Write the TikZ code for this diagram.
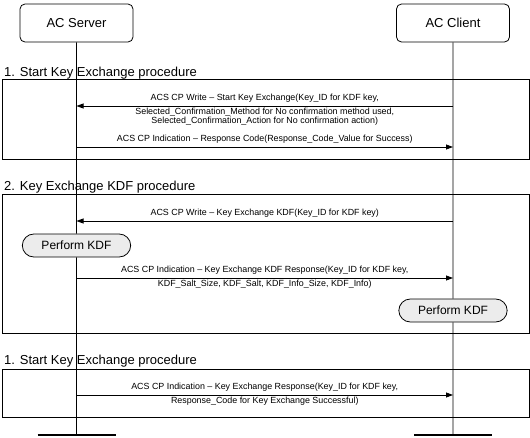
\documentclass[tikz,border=0pt]{standalone}
\usepackage{fontspec}
\setmainfont{Liberation Sans}
\usetikzlibrary{arrows.meta,positioning,shapes.misc}

\begin{document}
\begin{tikzpicture}[
    x=1pt, y=-1pt,
    actor/.style={draw, rounded corners=5pt, minimum width=113pt, minimum height=38pt,
        font=\fontsize{13}{15}\selectfont, line width=0.8pt},
    frame/.style={draw, line width=0.8pt},
    phase/.style={anchor=base west, inner sep=0pt, font=\fontsize{13}{15}\selectfont},
    msg/.style={-{Triangle[length=7pt,width=5pt]}, line width=0.8pt},
    lbl/.style={font=\fontsize{8.9}{9}\selectfont, inner sep=0pt, align=center},
    work/.style={draw, rounded rectangle, fill=gray!15, minimum width=115pt, minimum height=23pt,
        font=\fontsize{12}{14}\selectfont, line width=0.8pt}
]
\useasboundingbox (0,0) rectangle (530,437);

\draw[frame] (2,79) rectangle (529,159);
\draw[frame] (2,194) rectangle (529,333);
\draw[frame] (2,369) rectangle (529,417);
\node[phase] (ph1) at (4,76) {1. Start Key Exchange procedure};
\node[phase] (ph2) at (4,190) {2. Key Exchange KDF procedure};
\node[phase] (ph3) at (4,364) {1. Start Key Exchange procedure};

\node[actor] (srv) at (76.5,23) {AC Server};
\node[actor] (cli) at (453,23) {AC Client};
\coordinate (srvend) at (76.5,435);
\coordinate (cliend) at (453,435);

\node[work] (kdfs) at (76.5,245.5) {Perform KDF};
\node[work] (kdfc) at (453,310.5) {Perform KDF};

\draw[line width=0.8pt] (srv) -- (kdfs) -- (srvend);
\draw[line width=0.8pt] (cli) -- (kdfc) -- (cliend);
\draw[line width=2.5pt] ([xshift=-39pt]srvend) -- ([xshift=39pt]srvend);
\draw[line width=2.5pt] ([xshift=-39pt]cliend) -- ([xshift=39pt]cliend);

\foreach \n/\y in {a/106,b/147,c/221,d/278,e/395} {
  \coordinate (s\n) at (76.5,\y);
  \coordinate (c\n) at (453,\y);
}

\draw[msg] (ca) -- node[lbl, above=3pt] (ma) {ACS CP Write -- Start Key Exchange(Key\_ID for KDF key,}
    node[lbl, below=1.5pt] (ma2) {Selected\_Confirmation\_Method for No confirmation method used,\\
    Selected\_Confirmation\_Action for No confirmation action)} (sa);
\draw[msg] (sb) -- node[lbl, above=3pt] (mb) {ACS CP Indication -- Response Code(Response\_Code\_Value for Success)} (cb);
\draw[msg] (cc) -- node[lbl, above=3pt] (mc) {ACS CP Write -- Key Exchange KDF(Key\_ID for KDF key)} (sc);
\draw[msg] (sd) -- node[lbl, above=3pt] (md) {ACS CP Indication -- Key Exchange KDF Response(Key\_ID for KDF key,}
    node[lbl, below=1.5pt] (md2) {KDF\_Salt\_Size, KDF\_Salt, KDF\_Info\_Size, KDF\_Info)} (cd);
\draw[msg] (se) -- node[lbl, above=3pt] (me) {ACS CP Indication -- Key Exchange Response(Key\_ID for KDF key,}
    node[lbl, below=1.5pt] (me2) {Response\_Code for Key Exchange Successful)} (ce);
\end{tikzpicture}
\end{document}
